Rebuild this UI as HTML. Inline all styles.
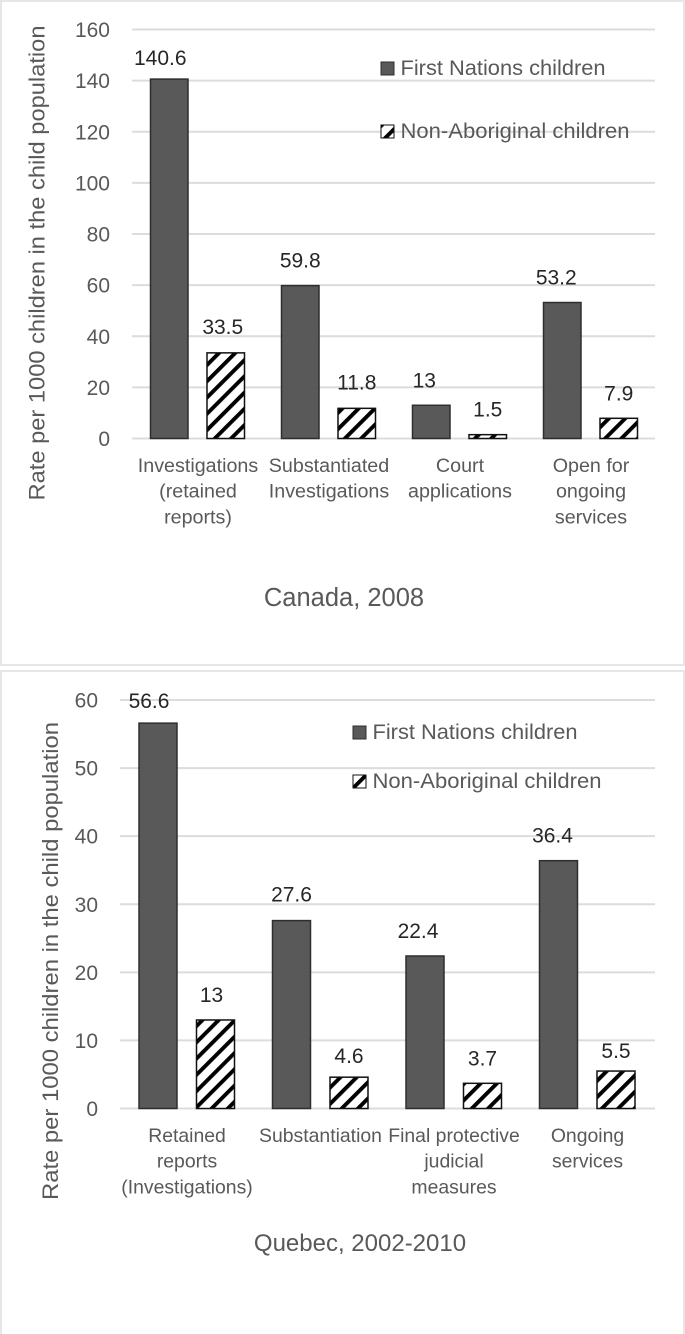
<!DOCTYPE html>
<html lang="en">
<head>
<meta charset="utf-8">
<title>Child welfare rates</title>
<style>
html,body{margin:0;padding:0;background:#fff;width:685px;height:1334px;overflow:hidden}
svg{display:block;font-family:"Liberation Sans",sans-serif}
</style>
</head>
<body>
<svg id="root" width="685" height="1334" viewBox="0 0 685 1334">
<defs>
<pattern id="hatch" width="11.5" height="11.5" patternUnits="userSpaceOnUse" patternTransform="rotate(45)">
<rect width="11.5" height="11.5" fill="#fff"/>
<rect x="0" width="3.9" height="11.5" fill="#000"/>
</pattern>
</defs>
<rect x="1" y="1" width="683" height="664" fill="#fff" stroke="#e6e6e6" stroke-width="2"/>
<rect x="1" y="671" width="683" height="670" fill="#fff" stroke="#e6e6e6" stroke-width="2"/>
</svg>
<script>
const seriesNames = ["First Nations children", "Non-Aboriginal children"];

const canadaCategories = [["Investigations","(retained","reports)"],["Substantiated","Investigations"],["Court","applications"],["Open for","ongoing","services"]];
const canadaFirstNations = [140.6, 59.8, 13, 53.2];
const canadaNonAboriginal = [33.5, 11.8, 1.5, 7.9];
const canadaTicks = [0, 20, 40, 60, 80, 100, 120, 140, 160];

const quebecCategories = [["Retained","reports","(Investigations)"],["Substantiation"],["Final protective","judicial","measures"],["Ongoing","services"]];
const quebecFirstNations = [56.6, 27.6, 22.4, 36.4];
const quebecNonAboriginal = [13, 4.6, 3.7, 5.5];
const quebecTicks = [0, 10, 20, 30, 40, 50, 60];

const NS = "http://www.w3.org/2000/svg";
const root = document.getElementById("root");

function add(tag, attrs, text) {
  const el = document.createElementNS(NS, tag);
  for (const k in attrs) el.setAttribute(k, attrs[k]);
  if (text !== undefined) el.textContent = text;
  root.appendChild(el);
  return el;
}

function drawChart(c) {
  const y = v => c.y0 - (v / c.maxV) * (c.y0 - c.yTop);
  const groupX = i => c.x0 + c.groupW * i;

  c.ticks.forEach(t => {
    const line = add("line", {x1: c.x0, x2: c.x1, y1: y(t), y2: y(t), stroke: "#dcdcdc", "stroke-width": 2});
    
    
    const lab = add("text", {x: c.tickX, y: y(t) + 7.5, "text-anchor": "end", "font-size": 21, fill: "#595959"}, String(t));
    
    
  });

  const yTitle = add("text", {transform: `translate(${c.titleX},${c.titleY}) rotate(-90)`, "text-anchor": "middle", "font-size": 22, fill: "#595959", textLength: c.titleLen, lengthAdjust: "spacingAndGlyphs"}, "Rate per 1000 children in the child population");
  
  

  c.first.forEach((v, i) => {
    const bx = groupX(i) + c.barA;
    const bar = add("rect", {x: bx, y: y(v), width: c.barW, height: c.y0 - y(v), fill: "#545454", "fill-opacity": 0.97, stroke: "#2e2e2e", "stroke-width": 1.5});
    
    
    const lab = add("text", {x: bx + c.barW / 2 + c.dxA[i], y: y(v) - c.dyA[i], "text-anchor": "middle", "font-size": 21, fill: "#262626"}, String(v));
    
    
  });

  c.second.forEach((v, i) => {
    const bx = groupX(i) + c.barB;
    const bar = add("rect", {x: bx, y: y(v), width: c.barW, height: c.y0 - y(v), fill: "url(#hatch)", stroke: "#111", "stroke-width": 1.5});
    
    
    const lab = add("text", {x: bx + c.barW / 2 + c.dxB[i], y: y(v) - c.dyB[i], "text-anchor": "middle", "font-size": 21, fill: "#262626"}, String(v));
    
    
  });

  c.cats.forEach((lines, i) => {
    lines.forEach((s, j) => {
      const lab = add("text", {x: groupX(i) + c.catDx, y: c.catY + j * 25.7, "text-anchor": "middle", "font-size": c.catSize, fill: "#595959"}, s);
      
      
    });
  });

  const sw1 = add("rect", {x: c.legX, y: c.legY1 - 13, width: 13, height: 13, fill: "#595959", stroke: "#2e2e2e", "stroke-width": 1});
  
  
  const lg1 = add("text", {x: c.legX + 19.5, y: c.legY1, "font-size": 21, fill: "#595959", textLength: 205, lengthAdjust: "spacingAndGlyphs"}, seriesNames[0]);
  
  

  const sw2 = add("rect", {x: c.legX, y: c.legY2 - 13, width: 13, height: 13, fill: "url(#hatch)", stroke: "#111", "stroke-width": 1});
  
  
  const lg2 = add("text", {x: c.legX + 19.5, y: c.legY2, "font-size": 21, fill: "#595959", textLength: 229, lengthAdjust: "spacingAndGlyphs"}, seriesNames[1]);
  
  

  const title = add("text", {x: c.capX, y: c.capY, "text-anchor": "middle", "font-size": c.capSize, fill: "#595959"}, c.caption);
  
  
}

drawChart({
  first: canadaFirstNations, second: canadaNonAboriginal, cats: canadaCategories, ticks: canadaTicks,
  maxV: 160, y0: 438.5, yTop: 29.5, x0: 132, x1: 655, groupW: 131,
  barA: 18.5, barB: 75, barW: 37.5, tickX: 110,
  titleX: 44.5, titleY: 263, titleLen: 475,
  dxA: [-9, 0, -7, -6], dyA: [14, 18, 18, 18], dxB: [-3, 0, 0, 0], dyB: [19, 19, 18, 18],
  catDx: 66, catSize: 19.7, catY: 472, legX: 381, legY1: 75, legY2: 138,
  caption: "Canada, 2008", capX: 344, capY: 606, capSize: 25.5
});

drawChart({
  first: quebecFirstNations, second: quebecNonAboriginal, cats: quebecCategories, ticks: quebecTicks,
  maxV: 60, y0: 1108.5, yTop: 700, x0: 120, x1: 655, groupW: 133.5,
  barA: 19, barB: 76.5, barW: 38, tickX: 98,
  titleX: 58, titleY: 961, titleLen: 478,
  dxA: [-9, 0, -7, -6], dyA: [15, 19, 18, 18], dxB: [-4, 0, 0, 0], dyB: [18, 14, 18, 13],
  catDx: 67, catSize: 19.4, catY: 1142, legX: 353, legY1: 739, legY2: 788,
  caption: "Quebec, 2002-2010", capX: 360, capY: 1251, capSize: 24
});
</script>
</body>
</html>
